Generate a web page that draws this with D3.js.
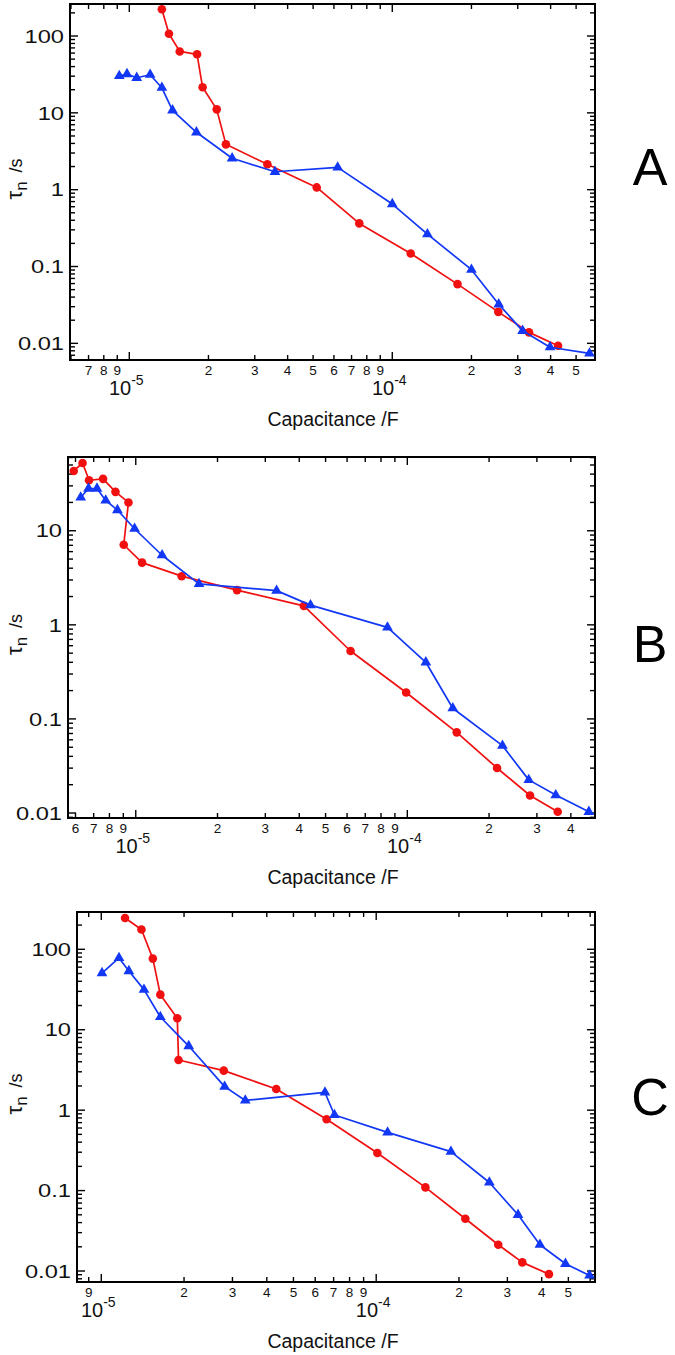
<!DOCTYPE html>
<html>
<head>
<meta charset="utf-8">
<script src="https://cdn.jsdelivr.net/npm/d3@7"></script>
<style>
  html, body { margin: 0; padding: 0; background: #fff; }
  svg { display: block; font-family: "Liberation Sans", Arial, sans-serif; }
</style>
</head>
<body>
<svg id="chart" width="675" height="1355"></svg>
<script>
// ---------- DATA ----------
// Panel A
const aRedX  = [1.33e-5, 1.415e-5, 1.555e-5, 1.81e-5, 1.9e-5, 2.15e-5, 2.33e-5, 3.35e-5, 5.16e-5, 7.49e-5, 1.175e-4, 1.77e-4, 2.53e-4, 3.31e-4, 4.27e-4];
const aRedY  = [223, 107, 63, 57.8, 21.5, 11.1, 3.89, 2.14, 1.07, 0.364, 0.148, 0.059, 0.0257, 0.0139, 0.0093];
const aBlueX = [9.16e-6, 9.8e-6, 1.067e-5, 1.2e-5, 1.33e-5, 1.46e-5, 1.8e-5, 2.46e-5, 3.58e-5, 6.2e-5, 1.0e-4, 1.36e-4, 2.0e-4, 2.54e-4, 3.13e-4, 3.98e-4, 5.62e-4];
const aBlueY = [30.2, 32, 28.6, 31.3, 21.2, 10.8, 5.58, 2.56, 1.71, 1.95, 0.65, 0.264, 0.091, 0.0322, 0.01455, 0.0089, 0.0074];

// Panel B
const bRedX  = [5.91e-6, 6.37e-6, 6.73e-6, 7.58e-6, 8.42e-6, 9.4e-6, 9.03e-6, 1.055e-5, 1.476e-5, 2.36e-5, 4.16e-5, 6.18e-5, 9.9e-5, 1.52e-4, 2.14e-4, 2.83e-4, 3.58e-4];
const bRedY  = [43.2, 52.5, 34.4, 35.6, 25.9, 20, 7.1, 4.58, 3.29, 2.34, 1.59, 0.527, 0.191, 0.072, 0.0301, 0.01535, 0.0103];
const bBlueX = [6.27e-6, 6.7e-6, 7.2e-6, 7.75e-6, 8.56e-6, 9.9e-6, 1.25e-5, 1.71e-5, 3.3e-5, 4.4e-5, 8.45e-5, 1.17e-4, 1.47e-4, 2.24e-4, 2.8e-4, 3.52e-4, 4.66e-4];
const bBlueY = [22.6, 28.1, 28.1, 21, 16.6, 10.5, 5.49, 2.72, 2.31, 1.62, 0.94, 0.4, 0.13, 0.052, 0.0225, 0.0155, 0.0103];

// Panel C
const cRedX  = [1.22e-5, 1.4e-5, 1.54e-5, 1.64e-5, 1.89e-5, 1.91e-5, 2.79e-5, 4.33e-5, 6.6e-5, 1.01e-4, 1.51e-4, 2.11e-4, 2.78e-4, 3.4e-4, 4.25e-4];
const cRedY  = [245, 176, 76.6, 27.3, 13.9, 4.2, 3.1, 1.83, 0.77, 0.293, 0.1096, 0.0447, 0.0212, 0.0128, 0.00914];
const cBlueX = [1.006e-5, 1.16e-5, 1.26e-5, 1.43e-5, 1.64e-5, 2.08e-5, 2.81e-5, 3.34e-5, 6.51e-5, 7.05e-5, 1.1e-4, 1.87e-4, 2.58e-4, 3.28e-4, 3.94e-4, 4.88e-4, 5.97e-4];
const cBlueY = [50.7, 78, 53.7, 31.5, 14.4, 6.27, 1.96, 1.32, 1.66, 0.87, 0.53, 0.305, 0.126, 0.05, 0.0212, 0.0123, 0.0088];

// Tick labels
const aXTicks = [7e-6, 8e-6, 9e-6, 1e-5, 2e-5, 3e-5, 4e-5, 5e-5, 6e-5, 7e-5, 8e-5, 9e-5, 1e-4, 2e-4, 3e-4, 4e-4, 5e-4];
const bXTicks = [6e-6, 7e-6, 8e-6, 9e-6, 1e-5, 2e-5, 3e-5, 4e-5, 5e-5, 6e-5, 7e-5, 8e-5, 9e-5, 1e-4, 2e-4, 3e-4, 4e-4];
const cXTicks = [9e-6, 1e-5, 2e-5, 3e-5, 4e-5, 5e-5, 6e-5, 7e-5, 8e-5, 9e-5, 1e-4, 2e-4, 3e-4, 4e-4, 5e-4];
const aYTicks = [100, 10, 1, 0.1, 0.01];
const bYTicks = [10, 1, 0.1, 0.01];
const cYTicks = [100, 10, 1, 0.1, 0.01];
const yTickText = {100: "100", 10: "10", 1: "1", 0.1: "0.1", 0.01: "0.01"};
const panelLetters = ["A", "B", "C"];
const xTitle = "Capacitance /F";

const RED = "#f01010";
const BLUE = "#1238f5";

// ---------- LAYOUT ----------
const panels = [
  { letter: panelLetters[0], x0: 70, x1: 595, y0: 4, y1: 360, xDom: [5.95e-6, 5.9e-4], yDom: [261, 0.00607],
    xTicks: aXTicks, yTicks: aYTicks, redX: aRedX, redY: aRedY, blueX: aBlueX, blueY: aBlueY, letterY: 185 },
  { letter: panelLetters[1], x0: 68, x1: 595, y0: 457, y1: 818, xDom: [5.63e-6, 4.91e-4], yDom: [60.8, 0.00885],
    xTicks: bXTicks, yTicks: bYTicks, redX: bRedX, redY: bRedY, blueX: bBlueX, blueY: bBlueY, letterY: 662 },
  { letter: panelLetters[2], x0: 77, x1: 595, y0: 912, y1: 1282, xDom: [8.16e-6, 6.25e-4], yDom: [291, 0.0073],
    xTicks: cXTicks, yTicks: cYTicks, redX: cRedX, redY: cRedY, blueX: cBlueX, blueY: cBlueY, letterY: 1115 }
];

const svg = d3.select("#chart");

function minorTicks(dom) {
  const lo = Math.min(dom[0], dom[1]), hi = Math.max(dom[0], dom[1]);
  const out = [];
  for (let e = Math.floor(Math.log10(lo)) - 1; e <= Math.ceil(Math.log10(hi)); e++) {
    for (let m = 1; m <= 9; m++) {
      const v = m * Math.pow(10, e);
      if (v >= lo * 1.0001 && v <= hi / 1.0001) out.push({ v, major: m === 1 });
    }
  }
  return out;
}

panels.forEach(p => {
  const g = svg.append("g");
  const x = d3.scaleLog().domain(p.xDom).range([p.x0, p.x1]);
  const y = d3.scaleLog().domain(p.yDom).range([p.y0, p.y1]);

  // Y ticks (left and right, inward)
  minorTicks(p.yDom).forEach(t => {
    const len = t.major ? 8 : 5;
    const yy = y(t.v);
    g.append("line").attr("x1", p.x0).attr("x2", p.x0 + len).attr("y1", yy).attr("y2", yy)
      .attr("stroke", "#000").attr("stroke-width", 1.4);
    g.append("line").attr("x1", p.x1).attr("x2", p.x1 - len).attr("y1", yy).attr("y2", yy)
      .attr("stroke", "#000").attr("stroke-width", 1.4);
  });
  // X ticks (bottom and top, inward)
  minorTicks(p.xDom).forEach(t => {
    const len = t.major ? 8 : 5;
    const xx = x(t.v);
    g.append("line").attr("x1", xx).attr("x2", xx).attr("y1", p.y1).attr("y2", p.y1 - len)
      .attr("stroke", "#000").attr("stroke-width", 1.4);
    g.append("line").attr("x1", xx).attr("x2", xx).attr("y1", p.y0).attr("y2", p.y0 + len)
      .attr("stroke", "#000").attr("stroke-width", 1.4);
  });

  // Frame
  g.append("rect").attr("x", p.x0).attr("y", p.y0).attr("width", p.x1 - p.x0).attr("height", p.y1 - p.y0)
    .attr("fill", "none").attr("stroke", "#000").attr("stroke-width", 2);

  // Y tick labels (horizontally widened like the reference)
  p.yTicks.forEach(v => {
    g.append("text").attr("transform", `translate(${p.x0 - 6},${y(v)}) scale(1.28,1)`)
      .attr("dy", "0.36em")
      .attr("text-anchor", "end").attr("font-size", 18.5).attr("fill", "#111")
      .text(yTickText[v]);
  });

  // X tick labels
  p.xTicks.forEach(v => {
    const e = Math.floor(Math.log10(v) + 1e-9);
    const m = Math.round(v / Math.pow(10, e));
    if (m === 1) {
      const t = g.append("text").attr("x", x(v) - 3).attr("y", p.y1 + 35)
        .attr("text-anchor", "middle").attr("font-size", 20).attr("fill", "#111");
      t.append("tspan").text("10");
      t.append("tspan").attr("dy", -10).attr("font-size", 14).text(String(e));
    } else {
      g.append("text").attr("x", x(v)).attr("y", p.y1 + 15)
        .attr("text-anchor", "middle").attr("font-size", 13.5).attr("fill", "#111")
        .text(String(m));
    }
  });

  // X title
  g.append("text").attr("x", 333).attr("y", p.y1 + 66).attr("text-anchor", "middle")
    .attr("font-size", 19.5).attr("fill", "#111").text(xTitle);

  // Y title
  const cy = (p.y0 + p.y1) / 2 - 3;
  const yt = g.append("text").attr("transform", `translate(22,${cy}) rotate(-90)`)
    .attr("text-anchor", "middle").attr("font-size", 22).attr("fill", "#111");
  yt.append("tspan").text("τ");
  yt.append("tspan").attr("dy", 5).attr("font-size", 17).text("n");
  yt.append("tspan").attr("dy", -5).attr("font-size", 18).text("\u2009 /s");

  // Panel letter
  g.append("text").attr("x", 650).attr("y", p.letterY).attr("text-anchor", "middle")
    .attr("font-size", 52).attr("fill", "#000").text(p.letter);

  // Series
  const series = [
    { xs: p.redX, ys: p.redY, color: RED, shape: "circle" },
    { xs: p.blueX, ys: p.blueY, color: BLUE, shape: "tri" }
  ];
  const line = d3.line().x(d => x(d[0])).y(d => y(d[1]));
  series.forEach(s => {
    const pts = s.xs.map((v, i) => [v, s.ys[i]]);
    g.append("path").attr("d", line(pts)).attr("fill", "none")
      .attr("stroke", s.color).attr("stroke-width", 1.7).attr("stroke-linejoin", "round");
    if (s.shape === "circle") {
      g.selectAll(null).data(pts).enter().append("circle")
        .attr("cx", d => x(d[0])).attr("cy", d => y(d[1])).attr("r", 4.3).attr("fill", s.color);
    } else {
      const sym = d3.symbol().type(d3.symbolTriangle).size(50);
      g.selectAll(null).data(pts).enter().append("path")
        .attr("d", sym).attr("transform", d => `translate(${x(d[0])},${y(d[1])})`).attr("fill", s.color);
    }
  });
});
</script>
</body>
</html>
